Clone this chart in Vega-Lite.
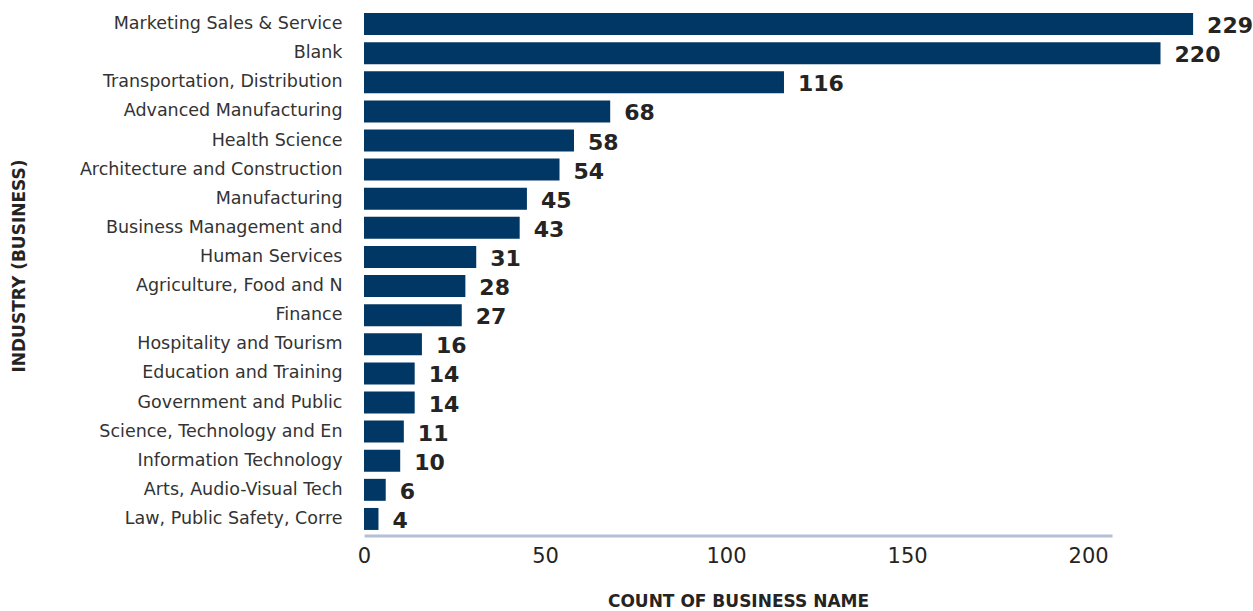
{
  "$schema": "https://vega.github.io/schema/vega-lite/v6.json",
  "autosize": "none",
  "width": 748,
  "height": 524,
  "padding": {"left": 364, "top": 9.5, "right": 141, "bottom": 77.5},
  "background": "#ffffff",
  "config": {"view": {"stroke": null}, "font": "DejaVu Sans"},
  "data": {
    "values": [
      {"industry": "Marketing Sales & Service", "count": 229},
      {"industry": "Blank", "count": 220},
      {"industry": "Transportation, Distribution", "count": 116},
      {"industry": "Advanced Manufacturing", "count": 68},
      {"industry": "Health Science", "count": 58},
      {"industry": "Architecture and Construction", "count": 54},
      {"industry": "Manufacturing", "count": 45},
      {"industry": "Business Management and", "count": 43},
      {"industry": "Human Services", "count": 31},
      {"industry": "Agriculture, Food and N", "count": 28},
      {"industry": "Finance", "count": 27},
      {"industry": "Hospitality and Tourism", "count": 16},
      {"industry": "Education and Training", "count": 14},
      {"industry": "Government and Public", "count": 14},
      {"industry": "Science, Technology and En", "count": 11},
      {"industry": "Information Technology", "count": 10},
      {"industry": "Arts, Audio-Visual Tech", "count": 6},
      {"industry": "Law, Public Safety, Corre", "count": 4}
    ]
  },
  "encoding": {
    "y": {
      "field": "industry",
      "type": "nominal",
      "sort": null,
      "scale": {"paddingInner": 0.245, "paddingOuter": 0.1225},
      "axis": {
        "title": "INDUSTRY (BUSINESS)",
        "titleFontWeight": "bold",
        "titleFontSize": 17,
        "titleColor": "#252423",
        "titleX": -345,
        "titleY": 256,
        "titleAngle": 270,
        "titleAlign": "center",
        "titleBaseline": "middle",
        "labelFontSize": 17.5,
        "labelColor": "#333333",
        "labelPadding": 22,
        "ticks": false,
        "domain": false,
        "labelLimit": 400
      }
    },
    "x": {
      "field": "count",
      "type": "quantitative",
      "scale": {"domain": [0, 206.6], "nice": false},
      "axis": {
        "title": "COUNT OF BUSINESS NAME",
        "titleFontWeight": "bold",
        "titleFontSize": 17,
        "titleColor": "#252423",
        "titleY": 66,
        "titleBaseline": "middle",
        "values": [0, 50, 100, 150, 200],
        "labelFontSize": 21,
        "labelColor": "#252423",
        "labelPadding": 10,
        "labelFlush": false,
        "labelOverlap": false,
        "ticks": false,
        "grid": false,
        "domainColor": "#b3c0d6",
        "domainWidth": 3,
        "offset": 2
      }
    }
  },
  "layer": [
    {"mark": {"type": "bar", "color": "#003764", "clip": false}},
    {
      "mark": {
        "type": "text",
        "align": "left",
        "baseline": "middle",
        "dx": 14,
        "dy": 2,
        "fontSize": 22,
        "fontWeight": "bold",
        "color": "#252423",
        "clip": false
      },
      "encoding": {"text": {"field": "count", "type": "quantitative"}}
    }
  ]
}
